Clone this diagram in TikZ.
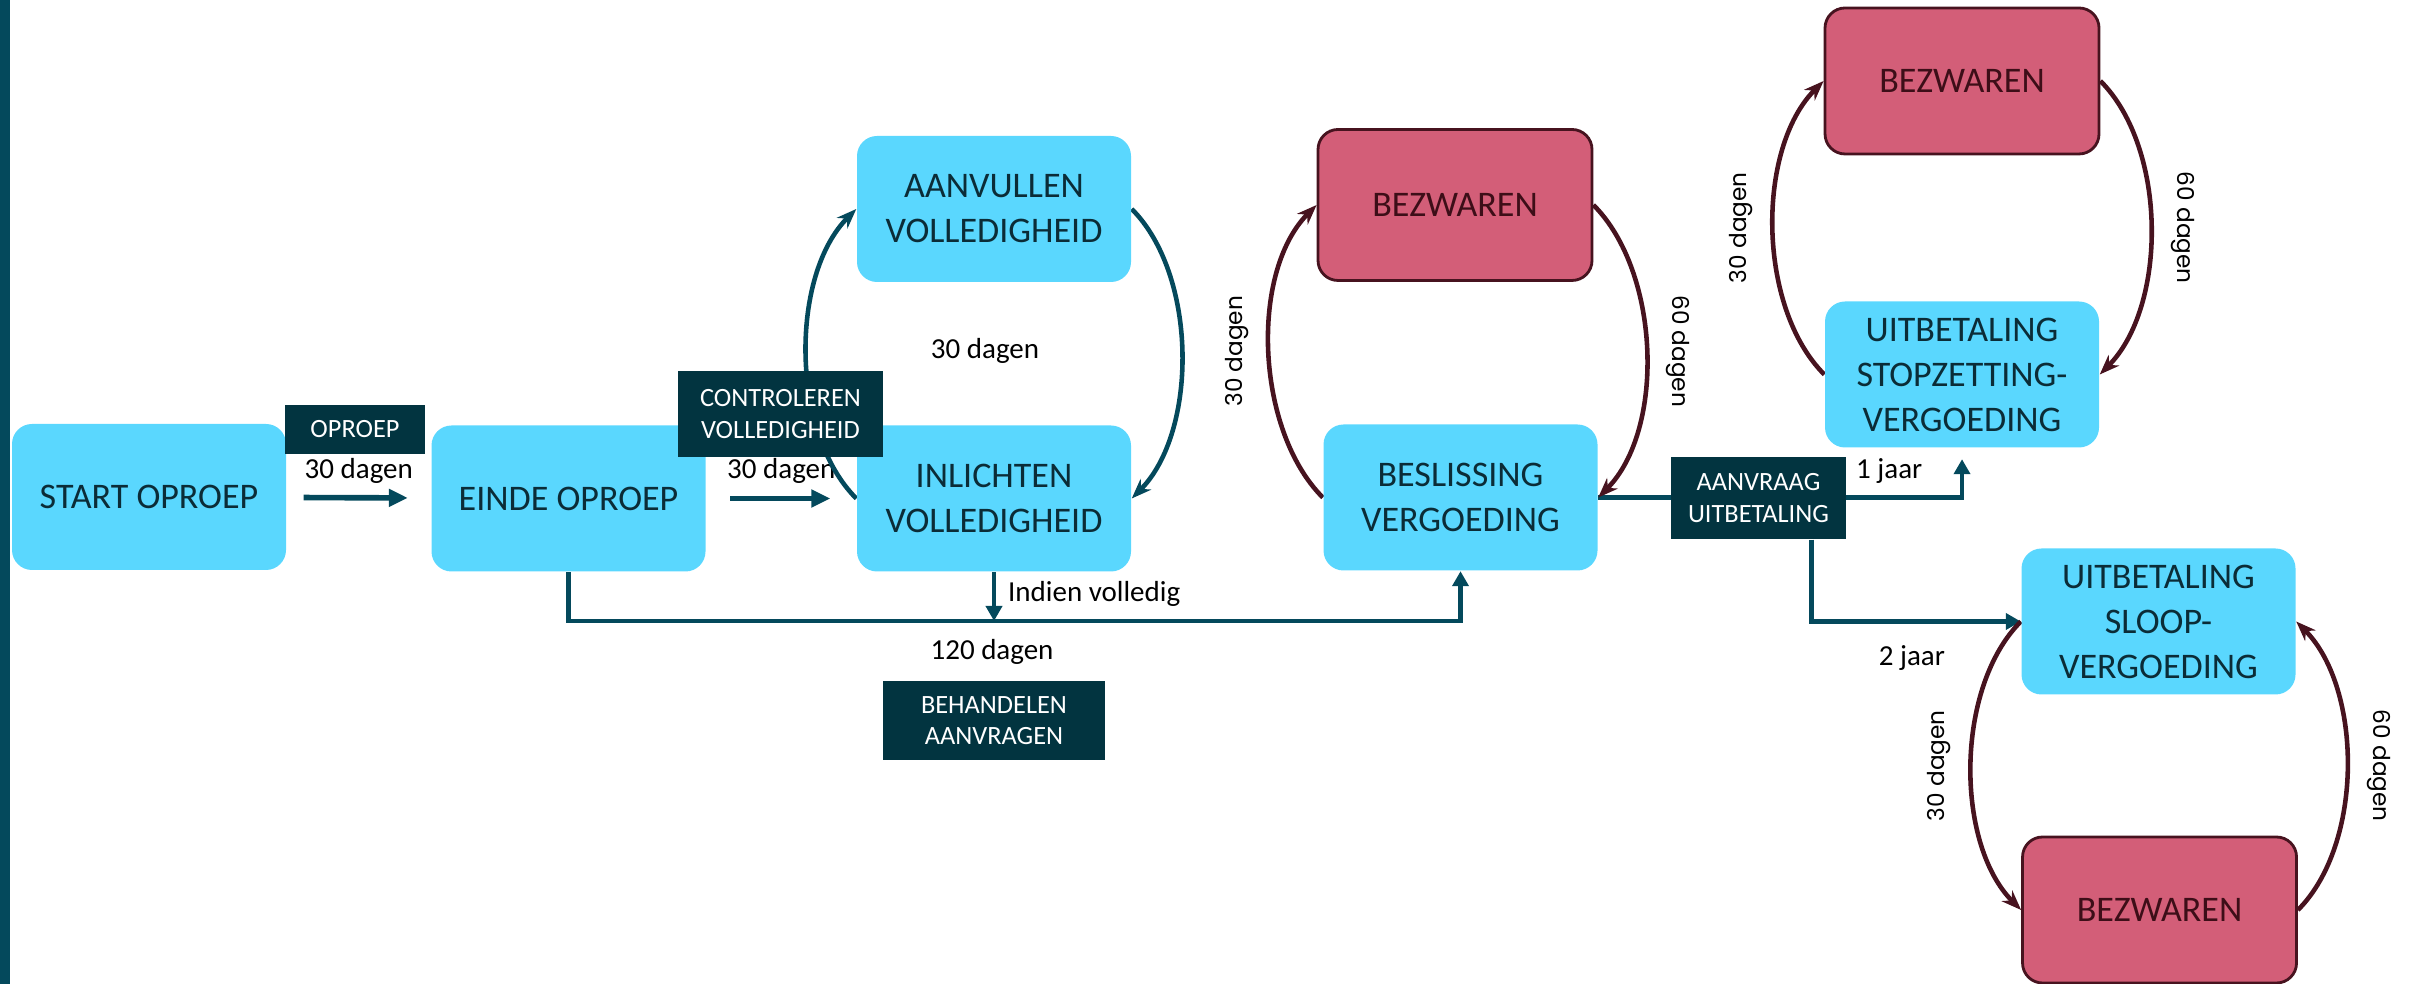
\documentclass[tikz,border=0pt]{standalone}
\usepackage{fontspec}
\setmainfont{Carlito}
\newfontfamily\gothicfont{Poppins}
\usetikzlibrary{arrows.meta,positioning,backgrounds,calc}
\definecolor{faseColor}{HTML}{5AD7FE}
\definecolor{faseText}{HTML}{0B2C37}
\definecolor{bezwaarColor}{HTML}{D35E78}
\definecolor{bezwaarText}{HTML}{3D0E18}
\definecolor{actieColor}{HTML}{023440}
\definecolor{lijnBlauw}{HTML}{04495C}
\definecolor{lijnRood}{HTML}{47131F}
\tikzset{
	fase/.style={rectangle, rounded corners=2mm, fill=faseColor, text=faseText,
		minimum width=27.4mm, minimum height=14.6mm, inner sep=0pt, align=center,
		font=\fontsize{10.25}{12.8}\selectfont},
	bezwaar/.style={fase, fill=bezwaarColor, draw=lijnRood, line width=0.8pt, text=bezwaarText},
	actie/.style={rectangle, fill=actieColor, text=white, inner sep=0pt, align=center,
		font=\fontsize{7.5}{9}\selectfont},
	termijn/.style={text=black, font=\fontsize{8.25}{10}\selectfont},
	draaiTermijn/.style={text=black, midway, anchor=south, inner sep=1.8mm,
		font=\gothicfont\fontsize{6.6}{8}\selectfont},
	draaiLinks/.style={draaiTermijn, rotate=90},
	draaiRechts/.style={draaiTermijn, rotate=-90},
	stap/.style={draw=lijnBlauw, line width=1.6pt, -{Triangle[length=1.9mm,width=1.7mm]}},
	verbinding/.style={draw=lijnBlauw, line width=1.4pt, -{Triangle[length=1.5mm,width=1.6mm]}},
	lus/.style={line width=1.3pt, looseness=0.83, -{Stealth[length=2mm,width=1.5mm]}}
}
\begin{document}
\begin{tikzpicture}[x=0.1mm, y=0.1mm]
	\useasboundingbox (0,0) rectangle (2412,984);
	\fill[lijnBlauw] (0,0) rectangle (10,984);
	% fasen
	\node[fase] at (149,487) (start) {START OPROEP};
	\node[fase] at (568.5,485.5) (einde) {EINDE OPROEP};
	\node[fase] at (994,775) (aanvullen) {AANVULLEN\\VOLLEDIGHEID};
	\node[fase] at (994,485.5) (inlichten) {INLICHTEN\\VOLLEDIGHEID};
	\node[bezwaar, minimum height=15.1mm] at (1455,779) (bezwaar_1) {BEZWAREN};
	\node[fase] at (1460.5,486.5) (beslissing) {BESLISSING\\VERGOEDING};
	\node[bezwaar] at (1962,903) (bezwaar_2) {BEZWAREN};
	\node[fase] at (1962,609.5) (stopzetting) {UITBETALING\\STOPZETTING-\\VERGOEDING};
	\node[fase] at (2158.5,362.5) (sloop) {UITBETALING\\SLOOP-\\VERGOEDING};
	\node[bezwaar] at (2159.5,74) (bezwaar_3) {BEZWAREN};
	% acties
	\node[actie, minimum width=14mm, minimum height=4.9mm] at (355,554.5) (oproep) {OPROEP};
	\node[actie, minimum width=20.5mm, minimum height=8.6mm] at (780.5,570) (controleren) {CONTROLEREN\\VOLLEDIGHEID};
	\node[actie, minimum width=22.2mm, minimum height=7.9mm] at (994,263.5) (behandelen) {BEHANDELEN\\AANVRAGEN};
	\node[actie, minimum width=17.5mm, minimum height=8.2mm] at (1758.5,486) (aanvraag) {AANVRAAG\\UITBETALING};
	\node[termijn] at (985,633) (dagen_lus) {30 dagen};
	\node[termijn] at (992,332) (dagen_120) {120 dagen};
	\coordinate (bus) at (994,363);
	\begin{scope}[on background layer]
		\path (start) edge[stap, shorten <=1.7mm, shorten >=2.3mm] node[termijn, above] {30 dagen} (einde);
		\path (einde) edge[stap, shorten <=2.4mm, shorten >=2.6mm] node[termijn, above] {30 dagen} (inlichten);
		\draw[verbinding] (einde.south) |- (bus) -| (beslissing.south);
		\path (inlichten.south) edge[verbinding] node[termijn, right, pos=.45] {Indien volledig} (bus);
		\draw[verbinding, shorten >=1.1mm] (beslissing.east) -| node[termijn, pos=.4, above] {1 jaar} (stopzetting.south);
		\draw[verbinding] ($(aanvraag.south west)!.8!(aanvraag.south east)$) |- node[termijn, pos=.74, below=1mm] {2 jaar} (sloop.west);
		% lussen
		\path (inlichten.west) edge[lus, lijnBlauw, out=135, in=225] (aanvullen.west);
		\path (aanvullen.east) edge[lus, lijnBlauw, out=-45, in=45] (inlichten.east);
		\path (beslissing.west) edge[lus, lijnRood, out=135, in=225] node[draaiLinks] {30 dagen} (bezwaar_1.west);
		\path (bezwaar_1.east) edge[lus, lijnRood, out=-45, in=45] node[draaiRechts] {60 dagen} (beslissing.east);
		\path (stopzetting.west) edge[lus, lijnRood, out=135, in=225] node[draaiLinks] {30 dagen} (bezwaar_2.west);
		\path (bezwaar_2.east) edge[lus, lijnRood, out=-45, in=45] node[draaiRechts] {60 dagen} (stopzetting.east);
		\path (sloop.west) edge[lus, lijnRood, out=225, in=135] node[draaiLinks] {30 dagen} (bezwaar_3.west);
		\path (bezwaar_3.east) edge[lus, lijnRood, out=45, in=-45] node[draaiRechts] {60 dagen} (sloop.east);
	\end{scope}
\end{tikzpicture}
\end{document}
